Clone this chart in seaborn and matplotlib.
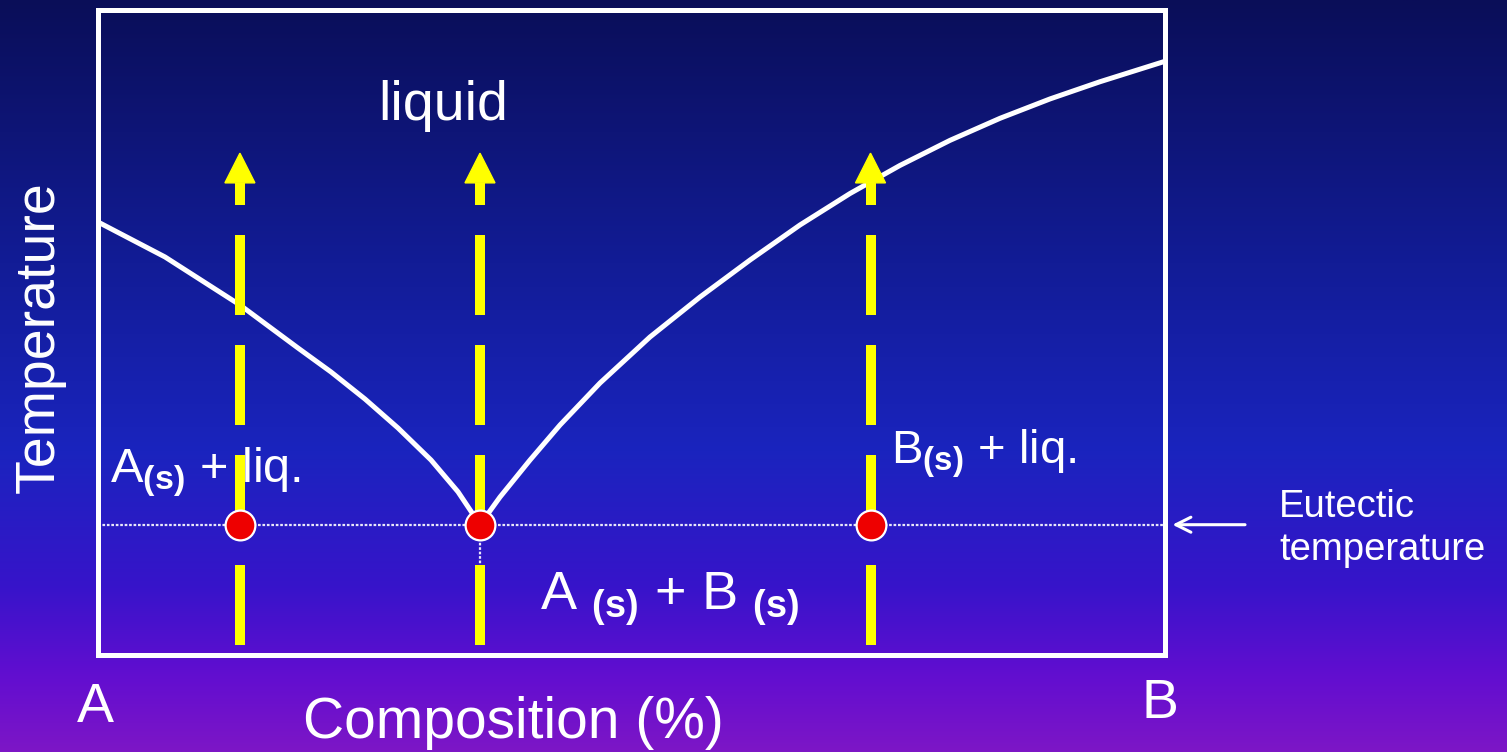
import numpy as np
import pandas as pd
import matplotlib
matplotlib.use("Agg")
import matplotlib.pyplot as plt
import seaborn as sns
from matplotlib.patches import Polygon

# ---------------- data ----------------
comp_left = [0, 6.28, 13.31, 18.74, 21.84, 25.02, 28.12, 31.21, 33.74, 35.8]
temp_left = [67.13, 61.71, 54.26, 47.60, 43.88, 39.69, 35.19, 30.23, 25.30, 20.2]
comp_right = [35.8, 37.68, 40.49, 43.30, 47.05, 51.73, 56.42, 61.11, 65.79, 70.48,
              75.16, 79.85, 84.54, 89.22, 93.91, 100]
temp_right = [20.2, 24.50, 30.23, 35.66, 42.17, 49.30, 55.50, 61.24, 66.67, 71.55,
              75.90, 79.79, 83.21, 86.21, 88.88, 92.05]
eutectic_temp = 20.2
path_comps = [13.3, 35.8, 72.4]      # cooling/heating paths
path_start = 1.55
path_end = 73.2
arrow_tip = 77.8

W, H = 1507, 752
sns.set_theme(style="white")
plt.rcParams["font.family"] = ["Liberation Sans", "DejaVu Sans"]
plt.rcParams["mathtext.fontset"] = "custom"
plt.rcParams["mathtext.rm"] = "Liberation Sans"
plt.rcParams["mathtext.it"] = "Liberation Sans"
plt.rcParams["mathtext.bf"] = "Liberation Sans:bold"

fig = plt.figure(figsize=(W / 100, H / 100), dpi=100)

# background gradient
bg = fig.add_axes([0, 0, 1, 1])
stops = np.array([0.0, 0.35, 0.6, 0.78, 0.9, 1.0])
cols = np.array([
    [10, 14, 88],
    [18, 28, 150],
    [26, 36, 190],
    [55, 20, 202],
    [98, 14, 208],
    [125, 22, 198],
]) / 255.0
yy = np.linspace(0, 1, 400)
grad = np.stack([np.interp(yy, stops, cols[:, i]) for i in range(3)], axis=-1)
grad = np.repeat(grad[:, None, :], 4, axis=1)
bg.imshow(grad, aspect="auto", extent=[0, 1, 1, 0])
bg.axis("off")

# main axes
L, R, T, B = 98, 1165, 10, 655
ax = fig.add_axes([L / W, 1 - B / H, (R - L) / W, (B - T) / H])
ax.set_facecolor("none")
ax.set_xlim(0, 100)
ax.set_ylim(0, 100)
ax.set_xticks([])
ax.set_yticks([])
for s in ax.spines.values():
    s.set_color("white")
    s.set_linewidth(3.6)
    s.set_visible(True)

df_l = pd.DataFrame({"comp": comp_left, "temp": temp_left})
df_r = pd.DataFrame({"comp": comp_right, "temp": temp_right})
sns.lineplot(data=df_l, x="comp", y="temp", ax=ax, color="white", lw=3.6, sort=False, zorder=3)
sns.lineplot(data=df_r, x="comp", y="temp", ax=ax, color="white", lw=3.6, sort=False, zorder=3)
for ln in ax.lines:
    ln.set_solid_joinstyle("round")

# eutectic dotted line
ax.axhline(eutectic_temp, color="white", lw=1.6, ls=(0, (1.2, 0.8)), alpha=0.9, zorder=2)
ax.plot([path_comps[1], path_comps[1]], [eutectic_temp, 14.0], color="white", lw=1.6,
        ls=(0, (1.2, 0.8)), alpha=0.9, zorder=2)

# yellow dashed paths with arrowheads
hw = 15 / ((R - L) / 100)
for xc in path_comps:
    ln, = ax.plot([xc, xc], [path_start, path_end], color="#ffff00", lw=7.2, zorder=4)
    ln.set_dashes((8, 3))
    ax.add_patch(Polygon([[xc - hw, path_end], [xc + hw, path_end], [xc, arrow_tip]],
                         closed=True, color="#ffff00", zorder=4))

sns.scatterplot(x=path_comps, y=[eutectic_temp] * len(path_comps), ax=ax, s=460,
                color="#ee0000", edgecolor="white", linewidth=1.6, zorder=6)

# arrow to eutectic
ax.annotate("", xy=(100.7, eutectic_temp), xytext=(107.5, eutectic_temp),
            xycoords="data", annotation_clip=False,
            arrowprops=dict(arrowstyle="->,head_length=0.9,head_width=0.45",
                            color="white", lw=2.2, shrinkA=0, shrinkB=0))


def P(x, y):
    return x / W, 1 - y / H


fig.text(*P(443, 120), "liquid", color="white", fontsize=40, ha="center", va="baseline")
fig.text(*P(110, 482), r"A$_{\mathbf{(s)}}$ + liq.", color="white", fontsize=35,
         ha="left", va="baseline")
fig.text(*P(891, 463), r"B$_{\mathbf{(s)}}$ + liq.", color="white", fontsize=34,
         ha="left", va="baseline")
fig.text(*P(540, 610), r"A $_{\mathbf{(s)}}$ + B $_{\mathbf{(s)}}$", color="white", fontsize=39,
         ha="left", va="baseline")
fig.text(*P(40, 337), "Temperature", color="white", fontsize=40, rotation=90,
         ha="center", va="center")
fig.text(*P(95, 722), "A", color="white", fontsize=40, ha="center", va="baseline")
fig.text(*P(1160, 718), "B", color="white", fontsize=40, ha="center", va="baseline")
fig.text(*P(513, 738), "Composition (%)", color="white", fontsize=41, ha="center", va="baseline")
fig.text(*P(1279, 517), "Eutectic", color="white", fontsize=27.5, ha="left", va="baseline")
fig.text(*P(1279, 560), "temperature", color="white", fontsize=27.5, ha="left", va="baseline")

fig.savefig("out.png", dpi=100)
